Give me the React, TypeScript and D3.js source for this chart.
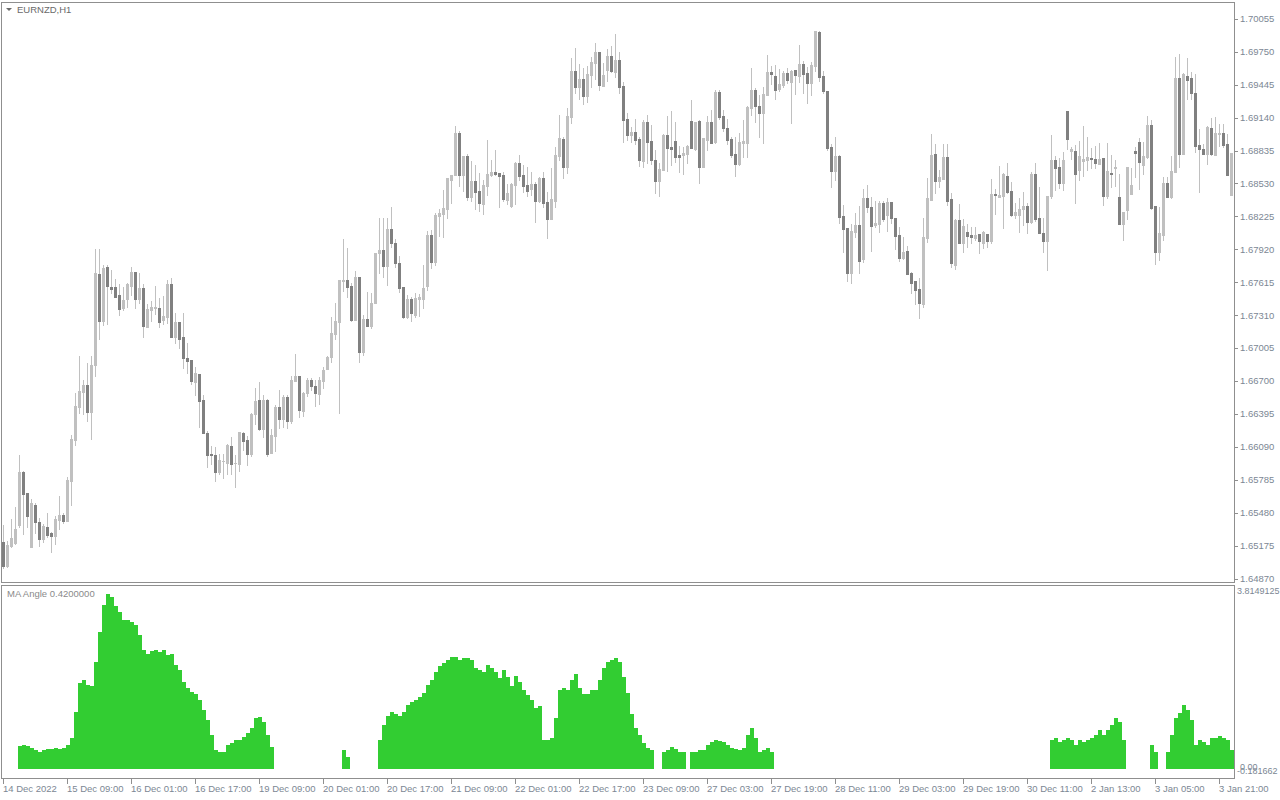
import React from 'react';
import * as d3 from 'd3';

const openP = [
1.65209,1.64987,1.65172,1.65200,1.65368,1.65858,1.65663,1.65163,1.65553,1.65395,
1.65238,1.65349,1.65293,1.65265,1.65414,1.65460,1.65405,1.65775,1.66154,1.66460,
1.66598,1.66664,1.66413,1.66849,1.67692,1.67257,1.67756,1.67571,1.67571,1.67497,
1.67377,1.67460,1.67580,1.67710,1.67460,1.67562,1.67201,1.67358,1.67377,1.67377,
1.67266,1.67293,1.67599,1.67108,1.67247,1.67108,1.66914,1.66895,1.66691,1.66766,
1.66525,1.66219,1.66025,1.66016,1.65858,1.65960,1.65941,1.66098,1.65941,1.65932,
1.66219,1.66154,1.66025,1.66395,1.66525,1.66257,1.66525,1.66034,1.66191,1.66460,
1.66349,1.66552,1.66331,1.66701,1.66747,1.66423,1.66589,1.66710,1.66654,1.66580,
1.66701,1.66812,1.66923,1.67136,1.67247,1.67627,1.67636,1.67580,1.67266,1.67664,
1.66969,1.67275,1.67210,1.67423,1.67886,1.67914,1.67765,1.68109,1.67978,1.67793,
1.67571,1.67293,1.67460,1.67312,1.67460,1.67460,1.67580,1.68053,1.67802,1.68228,
1.68247,1.68294,1.68562,1.68609,1.68997,1.68609,1.68784,1.68404,1.68553,1.68460,
1.68340,1.68506,1.68609,1.68636,1.68627,1.68609,1.68377,1.68321,1.68516,1.68719,
1.68609,1.68516,1.68479,1.68525,1.68368,1.68581,1.68358,1.68201,1.68368,1.68784,
1.68942,1.68682,1.69145,1.69572,1.69423,1.69498,1.69340,1.69535,1.69645,1.69747,
1.69432,1.69581,1.69710,1.69562,1.69673,1.69432,1.69127,1.68979,1.69006,1.68942,
1.68738,1.69099,1.68923,1.68747,1.68553,1.68655,1.68979,1.68867,1.68923,1.68794,
1.68794,1.68803,1.69109,1.68849,1.69109,1.68682,1.68932,1.69099,1.68913,1.69377,
1.69154,1.69044,1.68942,1.68803,1.68710,1.68904,1.68904,1.69229,1.69396,1.69247,
1.69182,1.69350,1.69562,1.69525,1.69405,1.69442,1.69553,1.69469,1.69581,1.69525,
1.69636,1.69553,1.69460,1.69617,1.69932,1.69525,1.69387,1.68867,1.68646,1.68784,
1.68228,1.68118,1.67701,1.68080,1.68146,1.67831,1.68395,1.68312,1.68146,1.68155,
1.68349,1.68238,1.68358,1.68210,1.68053,1.67840,1.67905,1.67701,1.67627,1.67553,
1.67414,1.68025,1.68377,1.68803,1.68553,1.68572,1.68775,1.68386,1.67775,1.68192,
1.67978,1.68080,1.68053,1.68025,1.68062,1.67978,1.68062,1.67997,1.68432,1.68404,
1.68413,1.68599,1.68460,1.68238,1.68238,1.68294,1.68321,1.68173,1.68618,1.68210,
1.68071,1.67997,1.68413,1.68747,1.68682,1.68534,1.69201,1.68831,1.68831,1.68655,
1.68738,1.68747,1.68765,1.68757,1.68710,1.68765,1.68413,1.68627,1.68673,1.68404,
1.68155,1.68284,1.68432,1.68831,1.68913,1.68701,1.68775,1.69072,1.68321,1.67895,
1.68053,1.68534,1.68404,1.68636,1.69507,1.68803,1.69525,1.69507,1.69368,1.68886,
1.68849,1.68803,1.69044,1.68794,1.68988,1.68997,1.68895,1.68423];

const highP = [
1.65368,1.65219,1.65423,1.65534,1.66016,1.65868,1.65663,1.65608,1.65571,1.65432,
1.65377,1.65478,1.65302,1.65450,1.65635,1.65478,1.65812,1.66201,1.66589,1.66932,
1.66710,1.66867,1.66932,1.67923,1.67923,1.67775,1.67775,1.67729,1.67646,1.67599,
1.67571,1.67608,1.67756,1.67710,1.67701,1.67599,1.67414,1.67442,1.67580,1.67469,
1.67487,1.67636,1.67655,1.67330,1.67247,1.67330,1.67052,1.66895,1.66830,1.66766,
1.66571,1.66238,1.66098,1.66089,1.66025,1.66025,1.66117,1.66182,1.66016,1.66228,
1.66228,1.66191,1.66404,1.66636,1.66691,1.66571,1.66534,1.66257,1.66479,1.66617,
1.66571,1.66571,1.66747,1.66951,1.66747,1.66598,1.66729,1.66729,1.66710,1.66738,
1.66830,1.66932,1.67293,1.67423,1.67636,1.68016,1.67932,1.67608,1.67720,1.67664,
1.67312,1.67524,1.67515,1.67886,1.68210,1.68210,1.68210,1.68312,1.68016,1.67858,
1.67571,1.67497,1.67478,1.67515,1.67506,1.67775,1.68090,1.68099,1.68256,1.68294,
1.68469,1.68581,1.68609,1.69062,1.69016,1.68784,1.68803,1.68738,1.68701,1.68627,
1.68562,1.68932,1.68747,1.68840,1.68627,1.68636,1.68525,1.68534,1.68728,1.68794,
1.68701,1.68682,1.68636,1.68543,1.68590,1.68636,1.68450,1.68673,1.68867,1.69164,
1.68960,1.69229,1.69692,1.69785,1.69636,1.69599,1.69617,1.69701,1.69831,1.69747,
1.69645,1.69776,1.69803,1.69914,1.69747,1.69469,1.69182,1.69053,1.69127,1.68960,
1.69118,1.69164,1.69072,1.68840,1.68719,1.68988,1.69154,1.69201,1.69099,1.68876,
1.68867,1.68886,1.69303,1.69099,1.69118,1.68951,1.69154,1.69210,1.69396,1.69396,
1.69210,1.69127,1.68960,1.68960,1.68997,1.69118,1.69247,1.69599,1.69414,1.69350,
1.69423,1.69720,1.69617,1.69627,1.69590,1.69572,1.69599,1.69581,1.69581,1.69813,
1.69664,1.69608,1.69654,1.69942,1.69942,1.69572,1.69387,1.68895,1.68960,1.68794,
1.68331,1.68118,1.68155,1.68256,1.68321,1.68479,1.68516,1.68404,1.68368,1.68368,
1.68368,1.68395,1.68358,1.68210,1.68127,1.68034,1.67950,1.67710,1.67627,1.67655,
1.68210,1.68581,1.68988,1.68895,1.68655,1.68895,1.68895,1.68441,1.68201,1.68340,
1.68201,1.68155,1.68127,1.68127,1.68062,1.68090,1.68062,1.68572,1.68479,1.68691,
1.68627,1.68719,1.68543,1.68349,1.68395,1.68450,1.68349,1.68636,1.68719,1.68497,
1.68210,1.68413,1.68979,1.68784,1.68765,1.68821,1.69201,1.68867,1.68886,1.68923,
1.69062,1.68960,1.68858,1.68876,1.68904,1.68765,1.68904,1.68794,1.68747,1.68618,
1.68265,1.68682,1.68673,1.68867,1.68951,1.68913,1.69154,1.69118,1.68321,1.68312,
1.68590,1.68590,1.68784,1.69701,1.69729,1.69553,1.69692,1.69562,1.69544,1.69034,
1.68895,1.69062,1.69136,1.69145,1.69081,1.69081,1.68988,1.68812];

const lowP = [
1.64969,1.64978,1.65163,1.65191,1.65349,1.65284,1.65349,1.65163,1.65293,1.65172,
1.65209,1.65256,1.65117,1.65191,1.65331,1.65386,1.65405,1.65553,1.66108,1.66404,
1.66395,1.66331,1.66164,1.66747,1.67090,1.67220,1.67229,1.67515,1.67478,1.67312,
1.67358,1.67386,1.67497,1.67377,1.67423,1.67108,1.67201,1.67257,1.67321,1.67201,
1.67229,1.67238,1.67108,1.67052,1.67006,1.66821,1.66775,1.66673,1.66571,1.66275,
1.66219,1.65904,1.65932,1.65775,1.65840,1.65803,1.65840,1.65840,1.65719,1.65868,
1.66062,1.65923,1.66006,1.66303,1.66247,1.66182,1.66006,1.66034,1.66053,1.66266,
1.66275,1.66266,1.66312,1.66701,1.66367,1.66376,1.66561,1.66617,1.66469,1.66488,
1.66636,1.66812,1.66876,1.67090,1.66404,1.67534,1.67478,1.67257,1.67266,1.66876,
1.66942,1.67210,1.67192,1.67423,1.67701,1.67664,1.67590,1.67941,1.67756,1.67524,
1.67284,1.67284,1.67257,1.67293,1.67302,1.67377,1.67543,1.67747,1.67775,1.68043,
1.68034,1.68210,1.68349,1.68609,1.68506,1.68460,1.68377,1.68368,1.68294,1.68275,
1.68247,1.68423,1.68599,1.68609,1.68312,1.68368,1.68340,1.68312,1.68340,1.68562,
1.68450,1.68413,1.68423,1.68173,1.68358,1.68312,1.68025,1.68201,1.68312,1.68747,
1.68581,1.68627,1.69090,1.69368,1.69313,1.69266,1.69284,1.69423,1.69498,1.69396,
1.69432,1.69479,1.69562,1.69516,1.69368,1.68913,1.68932,1.68913,1.68895,1.68691,
1.68682,1.68719,1.68710,1.68441,1.68413,1.68655,1.68646,1.68701,1.68728,1.68636,
1.68618,1.68719,1.68858,1.68840,1.68534,1.68682,1.68840,1.68904,1.68904,1.69127,
1.69016,1.68895,1.68775,1.68599,1.68701,1.68775,1.68775,1.69164,1.69099,1.68960,
1.68904,1.69350,1.69451,1.69313,1.69387,1.69423,1.69460,1.69090,1.69359,1.69469,
1.69368,1.69275,1.69350,1.69572,1.69479,1.69368,1.68840,1.68497,1.68562,1.68164,
1.67895,1.67627,1.67608,1.68034,1.67701,1.67802,1.68265,1.67905,1.68127,1.68080,
1.68183,1.68090,1.68164,1.67923,1.67812,1.67831,1.67692,1.67515,1.67414,1.67284,
1.67386,1.67987,1.68377,1.68441,1.68497,1.68572,1.68331,1.67756,1.67738,1.67978,
1.67895,1.67941,1.67978,1.68006,1.67886,1.67932,1.67941,1.67978,1.68247,1.68404,
1.68118,1.68441,1.68228,1.68210,1.68080,1.68146,1.68071,1.68164,1.68183,1.68071,
1.67895,1.67729,1.68395,1.68469,1.68488,1.68469,1.68849,1.68757,1.68349,1.68562,
1.68599,1.68655,1.68673,1.68673,1.68710,1.68331,1.68395,1.68497,1.68506,1.68155,
1.68006,1.68201,1.68432,1.68590,1.68479,1.68618,1.68765,1.68294,1.67784,1.67821,
1.68006,1.68404,1.68395,1.68636,1.68682,1.68803,1.69313,1.69313,1.68821,1.68450,
1.68803,1.68710,1.68794,1.68794,1.68876,1.68867,1.68609,1.68423];

const closeP = [
1.64987,1.65182,1.65247,1.65331,1.65858,1.65654,1.65450,1.65571,1.65395,1.65238,
1.65358,1.65275,1.65265,1.65423,1.65460,1.65405,1.65784,1.66164,1.66469,1.66608,
1.66664,1.66413,1.66849,1.67701,1.67257,1.67747,1.67580,1.67553,1.67478,1.67368,
1.67451,1.67599,1.67710,1.67460,1.67562,1.67210,1.67368,1.67386,1.67386,1.67247,
1.67302,1.67599,1.67108,1.67247,1.67090,1.66914,1.66886,1.66701,1.66775,1.66516,
1.66219,1.66016,1.66016,1.65858,1.65969,1.65960,1.66108,1.65932,1.65941,1.66228,
1.66145,1.66025,1.66395,1.66516,1.66257,1.66525,1.66025,1.66201,1.66460,1.66349,
1.66552,1.66331,1.66710,1.66747,1.66432,1.66589,1.66710,1.66654,1.66589,1.66710,
1.66803,1.66923,1.67145,1.67257,1.67636,1.67636,1.67571,1.67266,1.67664,1.66969,
1.67275,1.67210,1.67423,1.67886,1.67914,1.67765,1.68109,1.67978,1.67793,1.67562,
1.67293,1.67460,1.67330,1.67469,1.67478,1.67562,1.68053,1.67802,1.68238,1.68256,
1.68303,1.68581,1.68609,1.68997,1.68609,1.68784,1.68404,1.68553,1.68450,1.68349,
1.68516,1.68618,1.68636,1.68618,1.68599,1.68386,1.68441,1.68525,1.68719,1.68599,
1.68506,1.68460,1.68525,1.68368,1.68581,1.68349,1.68201,1.68386,1.68794,1.68951,
1.68682,1.69154,1.69572,1.69423,1.69498,1.69340,1.69544,1.69654,1.69747,1.69442,
1.69535,1.69710,1.69572,1.69673,1.69423,1.69118,1.68979,1.69006,1.68932,1.68747,
1.69099,1.68913,1.68747,1.68553,1.68664,1.68979,1.68858,1.68849,1.68775,1.68775,
1.68812,1.68876,1.68858,1.69099,1.68682,1.68951,1.69099,1.68904,1.69377,1.69145,
1.69044,1.68932,1.68794,1.68710,1.68913,1.68923,1.69238,1.69396,1.69247,1.69182,
1.69359,1.69562,1.69544,1.69396,1.69451,1.69553,1.69488,1.69572,1.69535,1.69636,
1.69544,1.69460,1.69627,1.69942,1.69516,1.69387,1.68858,1.68646,1.68784,1.68219,
1.68109,1.67701,1.68090,1.68146,1.67812,1.68395,1.68312,1.68136,1.68164,1.68349,
1.68201,1.68358,1.68210,1.68043,1.67840,1.67895,1.67692,1.67608,1.67543,1.67423,
1.68034,1.68395,1.68794,1.68553,1.68590,1.68775,1.68368,1.67793,1.68192,1.67978,
1.68136,1.68043,1.68034,1.68053,1.67997,1.68080,1.67997,1.68432,1.68423,1.68423,
1.68618,1.68450,1.68238,1.68265,1.68294,1.68321,1.68173,1.68618,1.68201,1.68071,
1.67997,1.68413,1.68747,1.68673,1.68534,1.68747,1.68942,1.68849,1.68618,1.68784,
1.68757,1.68775,1.68757,1.68719,1.68757,1.68413,1.68646,1.68618,1.68682,1.68155,
1.68265,1.68682,1.68516,1.68812,1.68728,1.68784,1.69072,1.68303,1.67895,1.68071,
1.68534,1.68404,1.68646,1.69507,1.68803,1.69544,1.69488,1.69368,1.68876,1.68849,
1.68803,1.69053,1.68803,1.68997,1.68997,1.68886,1.68609,1.68812];

const _ = null;
const maAngle: (number | null)[] = [
_,_,_,_,0.48,0.50,0.48,0.44,0.40,0.35,
0.40,0.42,0.42,0.44,0.42,0.44,0.50,0.65,1.19,1.79,
1.85,1.75,1.73,2.23,2.85,3.42,3.65,3.58,3.40,3.27,
3.10,3.10,3.06,3.00,2.79,2.48,2.40,2.46,2.48,2.44,
2.48,2.38,2.40,2.17,2.06,1.81,1.69,1.60,1.56,1.44,
1.23,1.02,0.71,0.40,0.35,0.35,0.50,0.54,0.60,0.60,
0.67,0.75,0.85,1.06,1.08,0.98,0.71,0.46,_,_,
_,_,_,_,_,_,_,_,_,_,
_,_,_,_,_,0.40,0.25,_,_,_,
_,_,_,_,0.60,0.92,1.10,1.19,1.15,1.10,
1.19,1.33,1.40,1.44,1.50,1.58,1.75,1.85,2.02,2.15,
2.21,2.27,2.33,2.33,2.27,2.31,2.31,2.27,2.10,2.06,
2.02,2.17,2.10,2.02,1.90,2.06,1.92,1.73,1.94,1.81,
1.65,1.54,1.44,1.27,1.31,0.60,0.60,0.65,1.06,1.65,
1.69,1.65,1.85,1.98,1.69,1.56,1.56,1.65,1.65,1.85,
2.10,2.23,2.27,2.31,2.23,1.92,1.58,1.15,0.85,0.71,
0.54,0.44,0.40,_,_,0.35,0.40,0.46,0.42,0.35,
0.35,_,0.35,0.35,0.40,0.40,0.50,0.56,0.60,0.58,
0.56,0.50,0.44,0.42,0.40,0.44,0.71,0.85,0.65,0.35,
0.40,0.44,0.35,_,_,_,_,_,_,_,
_,_,_,_,_,_,_,_,_,_,
_,_,_,_,_,_,_,_,_,_,
_,_,_,_,_,_,_,_,_,_,
_,_,_,_,_,_,_,_,_,_,
_,_,_,_,_,_,_,_,_,_,
_,_,_,_,_,_,_,_,_,_,
_,_,0.60,0.65,0.56,0.60,0.65,0.60,0.50,0.60,
0.56,0.60,0.65,0.71,0.81,0.71,0.81,0.92,1.06,0.98,
0.60,_,_,_,_,_,_,0.50,0.35,_,
_,0.35,0.71,1.06,1.17,1.33,1.23,1.02,0.50,0.60,
0.56,0.50,0.65,0.65,0.69,0.65,0.60,0.40];

const priceTicks = [1.70055,1.69750,1.69445,1.69140,1.68835,1.68530,1.68225,1.67920,1.67615,1.67310,1.67005,1.66700,1.66395,1.66090,1.65785,1.65480,1.65175,1.64870];
const timeLabels = ["14 Dec 2022","15 Dec 09:00","16 Dec 01:00","16 Dec 17:00","19 Dec 09:00","20 Dec 01:00","20 Dec 17:00","21 Dec 09:00","22 Dec 01:00","22 Dec 17:00","23 Dec 09:00","27 Dec 03:00","27 Dec 19:00","28 Dec 11:00","29 Dec 03:00","29 Dec 19:00","30 Dec 11:00","2 Jan 13:00","3 Jan 05:00","3 Jan 21:00"];
const timeLabelBars = [0,16,32,48,64,80,96,112,128,144,160,176,192,208,224,240,256,272,288,304];
const indicatorMax = 3.8149125;
const indicatorMin = -0.181662;

const FONT = "Tahoma, 'Liberation Sans', Arial, sans-serif";
const AXIS_COLOR = '#7c8794';
const FRAME = '#8f8f8f';
const BULL = '#c0c0c0';
const BEAR = '#808080';
const WICK = '#c0c0c0';
const GREEN = '#32cd32';

export default function App() {
  const n = openP.length;
  const x = d3.scaleBand<number>().domain(d3.range(n)).range([2, 2 + 4 * n]).paddingInner(0).paddingOuter(0);
  const yP = d3.scaleLinear().domain([1.6487, 1.70055]).range([578.7, 18.8]);
  const yI = d3.scaleLinear().domain([indicatorMin, indicatorMax]).range([778, 586]);
  const r = Math.round;
  const right = 1234;

  return (
    <svg width={1280} height={800} style={{ position: 'absolute', left: 0, top: 0, background: '#ffffff' }}>
      <rect x={0} y={0} width={1280} height={800} fill="#ffffff" />
      <g shapeRendering="crispEdges">
        {d3.range(n).map((i) => {
          const o = openP[i], c = closeP[i], h = highP[i], l = lowP[i];
          const bull = c >= o;
          const x0 = x(i) as number;
          const yh = r(yP(h)), yl = r(yP(l));
          const yt = r(yP(Math.max(o, c))), yb = r(yP(Math.min(o, c)));
          return (
            <g key={i}>
              <rect x={x0 + 1} y={yh} width={1} height={Math.max(1, yl - yh + 1)} fill={WICK} />
              <rect x={x0} y={yt} width={3} height={Math.max(1, yb - yt + 1)} fill={bull ? BULL : BEAR} />
            </g>
          );
        })}
        {maAngle.map((v, i) => {
          if (v === null) return null;
          const y0 = r(yI(0));
          const y1 = r(yI(v));
          return <rect key={'h' + i} x={(x(i) as number) - 0.5} y={y1} width={4} height={y0 - y1} fill={GREEN} />;
        })}
        <rect x={1.5} y={2.5} width={right - 1.5} height={580} fill="none" stroke={FRAME} />
        <rect x={1.5} y={585.5} width={right - 1.5} height={193} fill="none" stroke={FRAME} />
        {priceTicks.map((p) => (
          <line key={'pt' + p} x1={right} x2={right + 4} y1={r(yP(p)) + 0.5} y2={r(yP(p)) + 0.5} stroke={FRAME} />
        ))}
        {timeLabelBars.map((b) => (
          <line key={'tt' + b} x1={(x(b) as number) + 1.5} x2={(x(b) as number) + 1.5} y1={779} y2={784} stroke={FRAME} />
        ))}
      </g>
      {priceTicks.map((p) => (
        <text key={'pl' + p} x={1240} y={yP(p)} dy="0.35em" fontFamily={FONT} fontSize={9.5} fill={AXIS_COLOR}>
          {p.toFixed(5)}
        </text>
      ))}
      <text x={1237} y={yI(indicatorMax)} dy="0.9em" fontFamily={FONT} fontSize={9} fill={AXIS_COLOR}>3.8149125</text>
      <text x={1237} y={yI(0)} dy="0.5em" fontFamily={FONT} fontSize={9} fill={AXIS_COLOR}>-0.181662</text>
      <text x={1240} y={yI(0)} dy="0.1em" fontFamily={FONT} fontSize={9} fill={AXIS_COLOR}>0.00</text>
      {timeLabels.map((t, k) => (
        <text key={'tl' + k} x={(x(timeLabelBars[k]) as number) + 1} y={792} fontFamily={FONT} fontSize={9.5} fill={AXIS_COLOR}>
          {t}
        </text>
      ))}
      <path d="M6,8 L12,8 L9,11 Z" fill="#6a6a6a" />
      <text x={17} y={13} fontFamily={FONT} fontSize={9.5} fill="#6a6a6a">EURNZD,H1</text>
      <text x={7} y={597} fontFamily={FONT} fontSize={9.5} fill="#8a8a8a">MA Angle 0.4200000</text>
    </svg>
  );
}
